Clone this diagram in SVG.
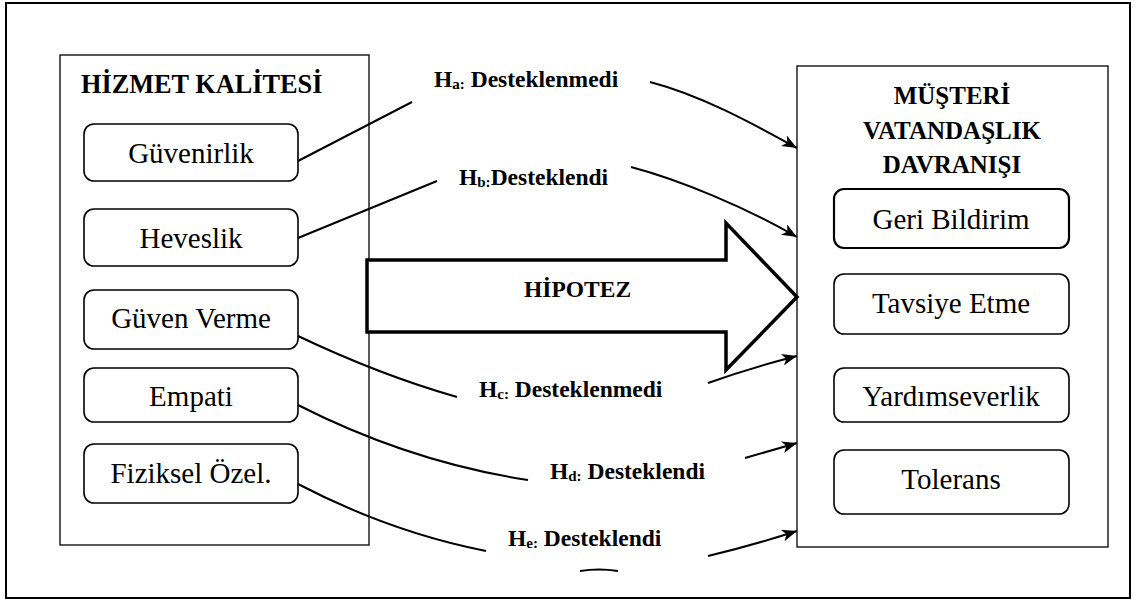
<svg xmlns="http://www.w3.org/2000/svg" width="1136" height="601" viewBox="0 0 1136 601">
  <style>
    .frame { fill: #fff; stroke: #000; stroke-width: 2; }
    .panel { fill: #fff; stroke: #000; stroke-width: 1.3; }
    .item { fill: #fff; stroke: #000; stroke-width: 1.6; }
    .item-strong { fill: #fff; stroke: #000; stroke-width: 2.2; }
    .item-text { font-family: "Liberation Serif", "Times New Roman", serif; font-size: 29px; fill: #000; text-anchor: middle; }
    .title { font-family: "Liberation Serif", "Times New Roman", serif; font-size: 25px; font-weight: bold; fill: #000; }
    .title-lg { font-size: 26.3px; }
    .label { font-family: "Liberation Serif", "Times New Roman", serif; font-size: 23.5px; font-weight: bold; fill: #000; }
    .sub { font-size: 15px; }
    .link { fill: none; stroke: #000; stroke-width: 2; }
    .big-arrow { fill: #fff; stroke: #000; stroke-width: 3.5; stroke-linejoin: miter; }
  </style>
  <defs>
    <marker id="head" markerUnits="userSpaceOnUse" markerWidth="16" markerHeight="12" refX="15" refY="6" orient="auto">
      <path d="M0,0 L15,6 L0,12 L4,6 z" fill="#000"/>
    </marker>
  </defs>

  <rect class="frame" x="6" y="3" width="1124" height="595"/>

  <!-- Service quality panel -->
  <g id="hizmet-kalitesi">
    <rect class="panel" x="60" y="55" width="309" height="490"/>
    <text class="title title-lg" x="81" y="93">HİZMET KALİTESİ</text>
  </g>
  <g id="guvenirlik">
    <rect class="item" x="84" y="124" width="214" height="57" rx="10"/>
    <text class="item-text" x="191" y="163">Güvenirlik</text>
  </g>
  <g id="heveslik">
    <rect class="item" x="84" y="209" width="214" height="57" rx="10"/>
    <text class="item-text" x="191" y="248">Heveslik</text>
  </g>
  <g id="guven-verme">
    <rect class="item" x="84" y="290" width="214" height="59" rx="10"/>
    <text class="item-text" x="191" y="328">Güven Verme</text>
  </g>
  <g id="empati">
    <rect class="item" x="84" y="368" width="214" height="54" rx="10"/>
    <text class="item-text" x="191" y="406">Empati</text>
  </g>
  <g id="fiziksel-ozel">
    <rect class="item" x="84" y="444" width="214" height="59" rx="10"/>
    <text class="item-text" x="191" y="483">Fiziksel Özel.</text>
  </g>

  <!-- Customer citizenship behaviour panel -->
  <g id="musteri-vatandaslik">
    <rect class="panel" x="797" y="66" width="311" height="481"/>
    <text class="title" x="952" y="104" text-anchor="middle">MÜŞTERİ</text>
    <text class="title" x="952" y="139" text-anchor="middle">VATANDAŞLIK</text>
    <text class="title" x="952" y="173" text-anchor="middle">DAVRANIŞI</text>
  </g>
  <g id="geri-bildirim">
    <rect class="item-strong" x="834" y="189" width="235" height="59" rx="10"/>
    <text class="item-text" x="951" y="229">Geri Bildirim</text>
  </g>
  <g id="tavsiye-etme">
    <rect class="item" x="834" y="274" width="235" height="60" rx="10"/>
    <text class="item-text" x="951" y="313">Tavsiye Etme</text>
  </g>
  <g id="yardimseverlik">
    <rect class="item" x="834" y="368" width="235" height="54" rx="10"/>
    <text class="item-text" x="951" y="406">Yardımseverlik</text>
  </g>
  <g id="tolerans">
    <rect class="item" x="834" y="450" width="235" height="64" rx="10"/>
    <text class="item-text" x="951" y="489">Tolerans</text>
  </g>

  <!-- Hypothesis block arrow -->
  <g id="hipotez">
    <path class="big-arrow" d="M367,260 L726,260 L726,223 L797,297 L726,370 L726,332 L367,332 Z"/>
    <text class="label" x="524" y="297">HİPOTEZ</text>
  </g>

  <!-- Hypothesis connectors -->
  <g id="connectors">
    <path class="link" d="M298,161 L412,102"/>
    <path class="link" d="M650,82 C700,95 750,122 797,148" marker-end="url(#head)"/>
    <path class="link" d="M298,238 L437,181"/>
    <path class="link" d="M631,167 C680,180 745,207 797,237" marker-end="url(#head)"/>
    <path class="link" d="M298,336 Q380,375 457,397"/>
    <path class="link" d="M708,383 Q750,368 797,356" marker-end="url(#head)"/>
    <path class="link" d="M298,405 Q410,462 528,480"/>
    <path class="link" d="M745,458 L797,443" marker-end="url(#head)"/>
    <path class="link" d="M298,484 Q390,532 486,551"/>
    <path class="link" d="M708,556 Q750,546 797,531" marker-end="url(#head)"/>
    <path class="link" d="M580,571 Q599,568 618,571"/>
  </g>

  <!-- Hypothesis results -->
  <g id="hypothesis-labels">
    <text class="label" x="434" y="87">H<tspan class="sub" dy="2">a:</tspan><tspan dy="-2"> Desteklenmedi</tspan></text>
    <text class="label" x="459" y="185">H<tspan class="sub" dy="2">b:</tspan><tspan dy="-2">Desteklendi</tspan></text>
    <text class="label" x="479" y="397">H<tspan class="sub" dy="2">c:</tspan><tspan dy="-2"> Desteklenmedi</tspan></text>
    <text class="label" x="550" y="479">H<tspan class="sub" dy="2">d:</tspan><tspan dy="-2"> Desteklendi</tspan></text>
    <text class="label" x="508" y="546">H<tspan class="sub" dy="2">e:</tspan><tspan dy="-2"> Desteklendi</tspan></text>
  </g>
</svg>
